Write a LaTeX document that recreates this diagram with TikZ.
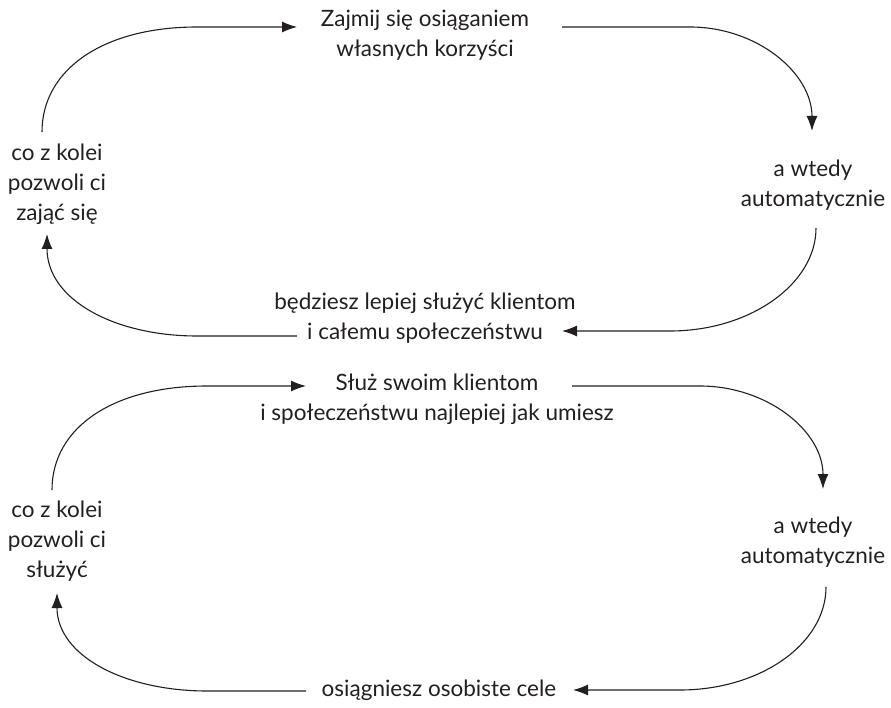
\documentclass[tikz,border=0pt]{standalone}
\usepackage{fontspec}
\setmainfont{Lato}
\usetikzlibrary{arrows.meta}
\definecolor{ink}{HTML}{231F20}
\tikzset{
  txt/.style={align=center, inner sep=0pt, font=\fontsize{22.5}{30}\selectfont, text=ink},
  flow/.style={line width=1.1pt, draw=ink, -{Latex[length=15pt,width=11pt]}}
}
\begin{document}
\begin{tikzpicture}[x=1pt,y=-1pt]
\useasboundingbox (0,0) rectangle (891,708);

% ---------- upper cycle ----------
\node[txt] (t1) at (425,35) {Zajmij się osiąganiem\\własnych korzyści};
\node[txt] (r1) at (813,185) {a wtedy\\automatycznie};
\node[txt] (b1) at (425,318) {będziesz lepiej służyć klientom\\i całemu społeczeństwu};
\node[txt] (l1) at (57,184) {co z kolei\\pozwoli ci\\zająć się};

\coordinate (l1out) at (42,132);
\coordinate (t1in)  at (297,27);
\coordinate (t1out) at (562,27);
\coordinate (r1in)  at (812,131);
\coordinate (r1out) at (816,228);
\coordinate (b1in)  at (562,331);
\coordinate (b1out) at (297,336);
\coordinate (l1in)  at (47,234);

\draw[flow] (l1out) .. controls (42,69) and (104,27) .. (197,27) -- (t1in);
\draw[flow] (t1out) -- (690,27) .. controls (757,27) and (812,73) .. (r1in);
\draw[flow] (r1out) .. controls (816,284) and (750,331) .. (670,331) -- (b1in);
\draw[flow] (b1out) -- (197,336) .. controls (115,336) and (47,300) .. (l1in);

% ---------- lower cycle ----------
\node[txt] (t2) at (437,399) {Służ swoim klientom\\i społeczeństwu najlepiej jak umiesz};
\node[txt] (r2) at (813,542) {a wtedy\\automatycznie};
\node[txt] (b2) at (439,690) {osiągniesz osobiste cele};
\node[txt] (l2) at (57,541) {co z kolei\\pozwoli ci\\służyć};

\coordinate (l2out) at (52,490);
\coordinate (t2in)  at (306,386);
\coordinate (t2out) at (572,386);
\coordinate (r2in)  at (823,489);
\coordinate (r2out) at (826,587);
\coordinate (b2in)  at (573,690);
\coordinate (b2out) at (306,691);
\coordinate (l2in)  at (57,593);

\draw[flow] (l2out) .. controls (52,427) and (114,386) .. (207,386) -- (t2in);
\draw[flow] (t2out) -- (700,386) .. controls (767,386) and (823,431) .. (r2in);
\draw[flow] (r2out) .. controls (826,644) and (760,690) .. (680,690) -- (b2in);
\draw[flow] (b2out) -- (207,691) .. controls (125,691) and (57,656) .. (l2in);
\end{tikzpicture}
\end{document}
